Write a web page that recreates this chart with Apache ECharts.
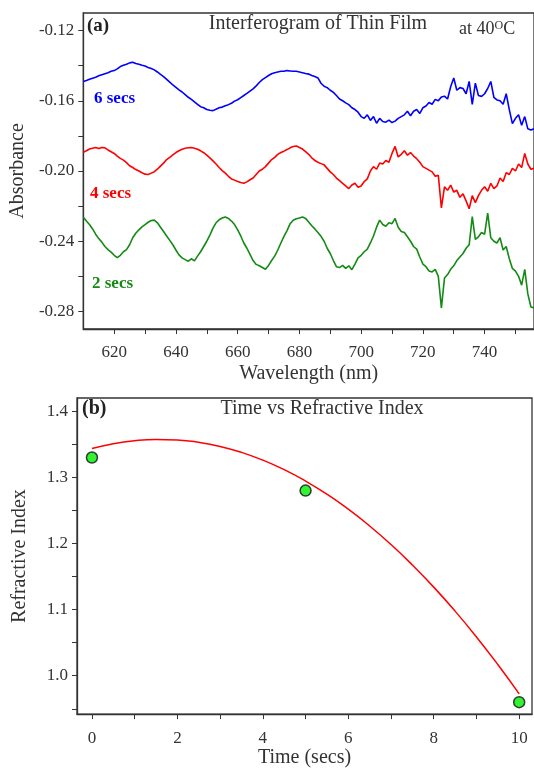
<!DOCTYPE html>
<html><head><meta charset="utf-8">
<script src="https://cdn.jsdelivr.net/npm/echarts@6/dist/echarts.min.js"></script>
<style>html,body{margin:0;padding:0;background:#fff}#c{width:534px;height:769px}</style>
</head><body><div id="c"></div>
<script>
// ---- Panel (a): interferogram data ----
const wavelength = [610,611,612,613,614,615,616,617,618,619,620,621,622,623,624,625,626,627,628,629,630,631,632,633,634,635,636,637,638,639,640,641,642,643,644,645,646,647,648,649,650,651,652,653,654,655,656,657,658,659,660,661,662,663,664,665,666,667,668,669,670,671,672,673,674,675,676,677,678,679,680,681,682,683,684,685,686,687,688,689,690,691,692,693,694,695,696,697,698,699,700,701,702,703,704,705,706,707,708,709,710,711,712,713,714,715,716,717,718,719,720,721,722,723,724,725,726,727,728,729,730,731,732,733,734,735,736,737,738,739,740,741,742,743,744,745,746,747,748,749,750,751,752,753,754,755,756];
const abs6s = [-0.1490,-0.1485,-0.1478,-0.1472,-0.1466,-0.1458,-0.1452,-0.1446,-0.1440,-0.1432,-0.1428,-0.1418,-0.1405,-0.1398,-0.1392,-0.1384,-0.1380,-0.1388,-0.1392,-0.1398,-0.1402,-0.1410,-0.1416,-0.1424,-0.1436,-0.1450,-0.1462,-0.1478,-0.1494,-0.1510,-0.1524,-0.1538,-0.1550,-0.1565,-0.1580,-0.1592,-0.1606,-0.1620,-0.1634,-0.1640,-0.1650,-0.1654,-0.1656,-0.1648,-0.1640,-0.1636,-0.1628,-0.1622,-0.1614,-0.1602,-0.1594,-0.1582,-0.1570,-0.1558,-0.1545,-0.1532,-0.1515,-0.1496,-0.1480,-0.1468,-0.1456,-0.1446,-0.1440,-0.1436,-0.1432,-0.1432,-0.1428,-0.1430,-0.1432,-0.1432,-0.1436,-0.1440,-0.1445,-0.1448,-0.1456,-0.1462,-0.1470,-0.1500,-0.1517,-0.1525,-0.1540,-0.1552,-0.1570,-0.1590,-0.1600,-0.1612,-0.1622,-0.1640,-0.1650,-0.1665,-0.1690,-0.1700,-0.1680,-0.1712,-0.1690,-0.1728,-0.1700,-0.1718,-0.1722,-0.1710,-0.1724,-0.1716,-0.1700,-0.1690,-0.1680,-0.1660,-0.1685,-0.1660,-0.1650,-0.1672,-0.1640,-0.1630,-0.1610,-0.1620,-0.1592,-0.1600,-0.1578,-0.1574,-0.1590,-0.1520,-0.1470,-0.1540,-0.1525,-0.1530,-0.1560,-0.1490,-0.1620,-0.1500,-0.1570,-0.1575,-0.1560,-0.1530,-0.1490,-0.1580,-0.1595,-0.1600,-0.1620,-0.1560,-0.1650,-0.1730,-0.1700,-0.1680,-0.1740,-0.1690,-0.1760,-0.1766,-0.1760];
const abs4s = [-0.1893,-0.1885,-0.1875,-0.1870,-0.1866,-0.1872,-0.1866,-0.1868,-0.1880,-0.1890,-0.1900,-0.1915,-0.1928,-0.1938,-0.1952,-0.1970,-0.1980,-0.1992,-0.2000,-0.2010,-0.2018,-0.2020,-0.2012,-0.2004,-0.1990,-0.1972,-0.1955,-0.1935,-0.1922,-0.1908,-0.1895,-0.1885,-0.1876,-0.1870,-0.1868,-0.1866,-0.1870,-0.1876,-0.1885,-0.1896,-0.1910,-0.1925,-0.1942,-0.1960,-0.1980,-0.1998,-0.2012,-0.2030,-0.2045,-0.2052,-0.2060,-0.2066,-0.2070,-0.2062,-0.2050,-0.2040,-0.2020,-0.2000,-0.1990,-0.1975,-0.1955,-0.1935,-0.1922,-0.1905,-0.1895,-0.1887,-0.1878,-0.1868,-0.1860,-0.1858,-0.1866,-0.1875,-0.1890,-0.1905,-0.1925,-0.1940,-0.1950,-0.1958,-0.1965,-0.1985,-0.2005,-0.2020,-0.2040,-0.2055,-0.2070,-0.2085,-0.2100,-0.2080,-0.2070,-0.2092,-0.2085,-0.2060,-0.2045,-0.2000,-0.1975,-0.1990,-0.1955,-0.1960,-0.1940,-0.1950,-0.1900,-0.1860,-0.1920,-0.1905,-0.1885,-0.1910,-0.1895,-0.1915,-0.1930,-0.1950,-0.1975,-0.1985,-0.1995,-0.2005,-0.2030,-0.2025,-0.2210,-0.2090,-0.2110,-0.2080,-0.2120,-0.2110,-0.2150,-0.2130,-0.2170,-0.2215,-0.2140,-0.2180,-0.2140,-0.2110,-0.2090,-0.2115,-0.2070,-0.2100,-0.2085,-0.2040,-0.2060,-0.2010,-0.2020,-0.1985,-0.2000,-0.1960,-0.1980,-0.1900,-0.1960,-0.1990,-0.1985];
const abs2s = [-0.2263,-0.2285,-0.2305,-0.2330,-0.2360,-0.2385,-0.2405,-0.2430,-0.2448,-0.2462,-0.2480,-0.2494,-0.2480,-0.2460,-0.2448,-0.2420,-0.2380,-0.2355,-0.2335,-0.2318,-0.2305,-0.2292,-0.2282,-0.2280,-0.2295,-0.2320,-0.2345,-0.2370,-0.2395,-0.2420,-0.2450,-0.2478,-0.2495,-0.2505,-0.2514,-0.2500,-0.2512,-0.2485,-0.2460,-0.2430,-0.2400,-0.2365,-0.2325,-0.2295,-0.2278,-0.2268,-0.2262,-0.2270,-0.2285,-0.2305,-0.2335,-0.2370,-0.2410,-0.2440,-0.2475,-0.2510,-0.2532,-0.2540,-0.2550,-0.2560,-0.2538,-0.2510,-0.2485,-0.2450,-0.2410,-0.2372,-0.2340,-0.2300,-0.2280,-0.2272,-0.2268,-0.2262,-0.2270,-0.2290,-0.2312,-0.2330,-0.2350,-0.2372,-0.2400,-0.2440,-0.2470,-0.2510,-0.2545,-0.2550,-0.2538,-0.2555,-0.2540,-0.2562,-0.2530,-0.2495,-0.2480,-0.2460,-0.2445,-0.2410,-0.2370,-0.2320,-0.2280,-0.2305,-0.2315,-0.2295,-0.2300,-0.2270,-0.2320,-0.2345,-0.2350,-0.2375,-0.2400,-0.2430,-0.2445,-0.2490,-0.2530,-0.2545,-0.2570,-0.2575,-0.2560,-0.2600,-0.2780,-0.2610,-0.2590,-0.2560,-0.2540,-0.2510,-0.2490,-0.2470,-0.2440,-0.2420,-0.2260,-0.2390,-0.2375,-0.2350,-0.2360,-0.2240,-0.2380,-0.2400,-0.2410,-0.2380,-0.2450,-0.2430,-0.2500,-0.2555,-0.2570,-0.2600,-0.2650,-0.2560,-0.2700,-0.2775,-0.2780];
const absLabelTicks = [-0.28,-0.24,-0.20,-0.16,-0.12];
const absMinorTicks = [-0.28,-0.26,-0.24,-0.22,-0.20,-0.18,-0.16,-0.14,-0.12];
const wlLabelTicks = [620,640,660,680,700,720,740];
const wlMinorTicks = [620,630,640,650,660,670,680,690,700,710,720,730,740,750];

// ---- Panel (b): refractive index ----
const timeSecs = [0,5,10];
const refIndex = [1.33,1.28,0.96];
const fitTime = [0,0.5,1,1.5,2,2.5,3,3.5,4,4.5,5,5.5,6,6.5,7,7.5,8,8.5,9,9.5,10];
const fitIndex = [1.3435,1.3509,1.3555,1.3574,1.3566,1.3530,1.3468,1.3378,1.3260,1.3116,1.2944,1.2745,1.2519,1.2265,1.1984,1.1675,1.1340,1.0977,1.0587,1.0170,0.9725];
const riLabelTicks = [1.0,1.1,1.2,1.3,1.4];
const riMinorTicks = [0.95,1.0,1.05,1.1,1.15,1.2,1.25,1.3,1.35,1.4];
const timeLabelTicks = [0,2,4,6,8,10];
const timeMinorTicks = [0,1,2,3,4,5,6,7,8,9,10];

const FF = '"Liberation Serif","Times New Roman",serif';
const AX = '#333';
const chart = echarts.init(document.getElementById('c'), null, {renderer:'canvas'});

function valAxis(extra){
  return Object.assign({
    type:'value', scale:true,
    axisLine:{show:true,onZero:false,lineStyle:{color:AX,width:1.3}},
    splitLine:{show:false},
    nameTextStyle:{fontFamily:FF,fontSize:20,color:'#333'}
  }, extra);
}

const option = {
  animation:false,
  backgroundColor:'#fff',
  grid:[
    {left:82, top:13, right:-3, bottom:440, show:true, borderColor:AX, borderWidth:1.3, backgroundColor:'transparent'},
    {left:77, top:398, right:2, bottom:52, show:true, borderColor:AX, borderWidth:1.3, backgroundColor:'transparent'}
  ],
  xAxis:[
    valAxis({gridIndex:0, min:610, max:756, name:'Wavelength (nm)', nameLocation:'middle', nameGap:35,
      axisTick:{show:true, inside:false, length:5, customValues:wlMinorTicks, lineStyle:{color:AX}},
      axisLabel:{customValues:wlLabelTicks, margin:15, fontFamily:FF, fontSize:17, color:'#333'}}),
    valAxis({gridIndex:1, min:-0.35, max:10.3, name:'Time (secs)', nameLocation:'middle', nameGap:30,
      axisTick:{show:true, inside:false, length:5, customValues:timeMinorTicks, lineStyle:{color:AX}},
      axisLabel:{customValues:timeLabelTicks, margin:16, fontFamily:FF, fontSize:17, color:'#333'}})
  ],
  yAxis:[
    valAxis({gridIndex:0, min:-0.29, max:-0.11, name:'Absorbance', nameLocation:'middle', nameGap:52,
      axisTick:{show:true, inside:false, length:5, customValues:absMinorTicks, lineStyle:{color:AX}},
      axisLabel:{customValues:absLabelTicks, margin:9, fontFamily:FF, fontSize:17, color:'#333', formatter:v=>v.toFixed(2)}}),
    valAxis({gridIndex:1, min:0.942, max:1.42, name:'Refractive Index', nameLocation:'middle', nameGap:47,
      axisTick:{show:true, inside:false, length:5, customValues:riMinorTicks, lineStyle:{color:AX}},
      axisLabel:{customValues:riLabelTicks, margin:9, fontFamily:FF, fontSize:17, color:'#333', formatter:v=>v.toFixed(1)}})
  ],
  series:[
    {type:'line', xAxisIndex:0, yAxisIndex:0, showSymbol:false, data:wavelength.map((w,i)=>[w,abs6s[i]]), lineStyle:{color:'#0000ff',width:1.6}, itemStyle:{color:'#0000ff'}},
    {type:'line', xAxisIndex:0, yAxisIndex:0, showSymbol:false, data:wavelength.map((w,i)=>[w,abs4s[i]]), lineStyle:{color:'#ff0000',width:1.6}, itemStyle:{color:'#ff0000'}},
    {type:'line', xAxisIndex:0, yAxisIndex:0, showSymbol:false, data:wavelength.map((w,i)=>[w,abs2s[i]]), lineStyle:{color:'#138a13',width:1.6}, itemStyle:{color:'#138a13'}},
    {type:'line', xAxisIndex:1, yAxisIndex:1, showSymbol:false, smooth:true, data:fitTime.map((t,i)=>[t,fitIndex[i]]), lineStyle:{color:'#ff0000',width:1.5}, itemStyle:{color:'#ff0000'}},
    {type:'scatter', xAxisIndex:1, yAxisIndex:1, symbolSize:11, data:timeSecs.map((t,i)=>[t,refIndex[i]]), itemStyle:{color:'#00ee00',borderColor:'#111',borderWidth:1.5}}
  ],
  graphic:[
    {type:'text', x:318, y:14, style:{text:'Interferogram of Thin Film', font:'20px '+FF, fill:'#333', textAlign:'center', textVerticalAlign:'top'}},
    {type:'text', x:87, y:17, style:{text:'(a)', font:'bold 19px '+FF, fill:'#222', textVerticalAlign:'top'}},
    {type:'text', x:459, y:20, style:{text:'{a|at 40}{b|O}{a|C}', rich:{a:{fontSize:18,fontFamily:FF,fill:'#333',verticalAlign:'bottom'},b:{fontSize:12,fontFamily:FF,fill:'#333',verticalAlign:'top'}}, textVerticalAlign:'top'}},
    {type:'text', x:94, y:90, style:{text:'6 secs', font:'bold 17px '+FF, fill:'#0000ff', textVerticalAlign:'top'}},
    {type:'text', x:90, y:185, style:{text:'4 secs', font:'bold 17px '+FF, fill:'#ff0000', textVerticalAlign:'top'}},
    {type:'text', x:92, y:275, style:{text:'2 secs', font:'bold 17px '+FF, fill:'#138a13', textVerticalAlign:'top'}},
    {type:'text', x:82, y:399, style:{text:'(b)', font:'bold 20px '+FF, fill:'#222', textVerticalAlign:'top'}},
    {type:'text', x:322, y:399, style:{text:'Time vs Refractive Index', font:'20px '+FF, fill:'#333', textAlign:'center', textVerticalAlign:'top'}}
  ]
};
chart.setOption(option);
</script></body></html>
